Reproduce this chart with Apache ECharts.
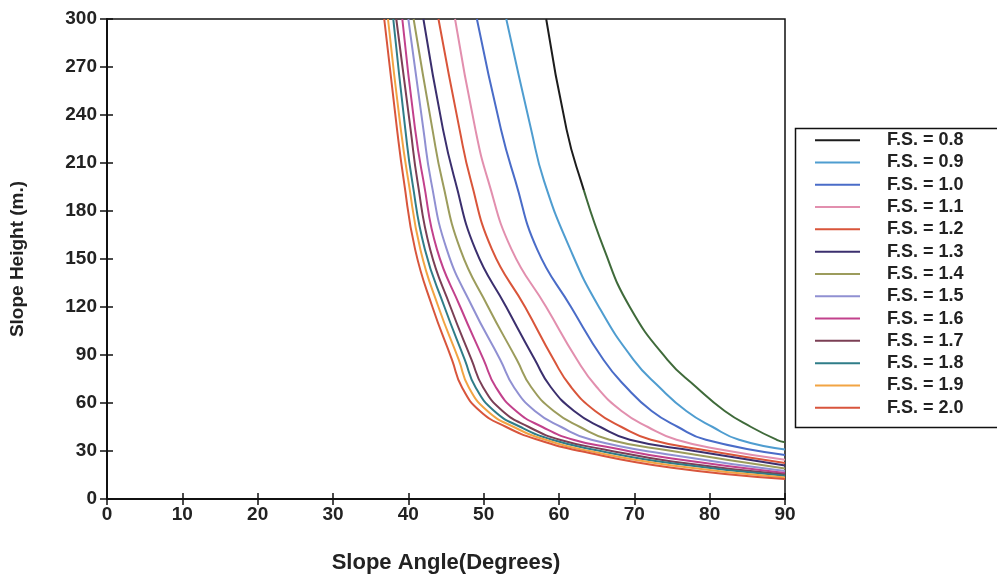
<!DOCTYPE html>
<html><head><meta charset="utf-8">
<script src="https://cdn.jsdelivr.net/npm/echarts@6/dist/echarts.min.js"></script>
<style>html,body{margin:0;padding:0;background:#fff}#c{width:997px;height:574px}</style>
</head><body><div id="c"></div>
<script>
const xTicks = [0,10,20,30,40,50,60,70,80,90];
const yTicks = [0,30,60,90,120,150,180,210,240,270,300];
const seriesNames = ['F.S. = 0.8','F.S. = 0.9','F.S. = 1.0','F.S. = 1.1','F.S. = 1.2','F.S. = 1.3','F.S. = 1.4','F.S. = 1.5','F.S. = 1.6','F.S. = 1.7','F.S. = 1.8','F.S. = 1.9','F.S. = 2.0'];
// [slope angle (deg), slope height (m)]
const fs08 = [[58.3,300],[61.0,231],[62.9,199],[66.0,156],[69.4,120],[74.4,87],[78.2,70],[82.0,55],[85.5,45],[88.9,37],[90,35.5]];
const fs09 = [[53.0,300],[56.3,231],[58.0,199],[61.5,156],[65.3,120],[69.9,87],[73.3,70],[76.9,55],[80.4,45],[83.9,37],[90,31]];
const fs10 = [[49.1,300],[52.3,231],[54.2,199],[57.1,156],[61.6,120],[65.9,87],[68.9,70],[72.3,55],[75.8,45],[79.5,37],[90,27.5]];
const fs11 = [[46.2,300],[48.9,231],[50.6,199],[53.7,156],[58.3,120],[62.4,87],[65.0,70],[68.3,55],[71.8,45],[75.6,37],[82,30.5],[90,24.5]];
const fs12 = [[44.0,300],[46.8,231],[48.3,199],[51.1,156],[55.5,120],[59.3,87],[61.6,70],[64.8,55],[68.3,45],[72.2,37],[80,30],[90,22.5]];
const fs13 = [[42.0,300],[44.6,231],[46.2,199],[48.9,156],[53.0,120],[56.8,87],[58.9,70],[62.0,55],[65.5,45],[69.4,37],[78,30],[90,21]];
const fs14 = [[40.7,300],[43.2,231],[44.5,199],[46.9,156],[50.6,120],[54.4,87],[56.3,70],[59.3,55],[62.8,45],[66.7,37],[75,30],[90,19]];
const fs15 = [[40.0,300],[42.0,231],[43.0,199],[45.1,156],[48.5,120],[52.2,87],[54.0,70],[56.8,55],[60.3,45],[64.3,37],[75,27.5],[90,17.5]];
const fs16 = [[39.2,300],[40.9,231],[42.0,199],[43.8,156],[46.9,120],[50.0,87],[51.6,70],[54.3,55],[57.8,45],[61.9,37],[67,32],[75,25.3],[90,16.3]];
const fs17 = [[38.4,300],[40.3,231],[41.2,199],[42.9,156],[45.6,120],[48.4,87],[49.9,70],[52.5,55],[56.0,45],[60.1,37],[66,31],[75,23.5],[90,15.3]];
const fs18 = [[38.0,300],[39.6,231],[40.5,199],[42.2,156],[44.8,120],[47.5,87],[48.9,70],[51.4,55],[54.9,45],[59.1,37],[65,30.5],[75,22.3],[90,14.5]];
const fs19 = [[37.3,300],[39.0,231],[40.0,199],[41.6,156],[44.0,120],[46.7,87],[48.0,70],[50.5,55],[54.0,45],[58.2,37],[64,30],[75,21],[90,13.5]];
const fs20 = [[36.8,300],[38.5,231],[39.4,199],[40.9,156],[43.2,120],[45.8,87],[47.1,70],[49.5,55],[53.0,45],[57.2,37],[62.8,30],[75,19.5],[90,12.5]];
const allData = [fs08,fs09,fs10,fs11,fs12,fs13,fs14,fs15,fs16,fs17,fs18,fs19,fs20];
const colors = ['#1c1c1c','#4f9dd0','#4a6cc8','#e28fae','#d9553a','#3b2f6e','#9c9c5c','#9090d2','#c2418c','#7b3f55','#2f7d88','#f2a443','#d8553c'];

const chart = echarts.init(document.getElementById('c'), null, {renderer:'canvas'});
const FONT = 'Liberation Sans, Arial, sans-serif';
const fs08Color = new echarts.graphic.LinearGradient(0,0,0,1,[
  {offset:0,color:'#1c1c1c'},{offset:0.405,color:'#1c1c1c'},
  {offset:0.405,color:'#3f6a3a'},{offset:1,color:'#3f6a3a'}]);
const series = seriesNames.map((n,i)=>({
  name:n, type:'line', data:allData[i], smooth:0.5, showSymbol:false, symbol:'none',
  xAxisIndex:0, yAxisIndex:0,
  lineStyle:{color:i===0?fs08Color:colors[i], width:2}, itemStyle:{color:colors[i]}, z: 3
}));
chart.setOption({
  animation:false,
  backgroundColor:'#fff',
  grid:{left:107,right:212,top:19,bottom:75,outerBoundsMode:'none',containLabel:false,
    show:true,borderColor:'#111',borderWidth:1.5,backgroundColor:'transparent'},
  xAxis:[{type:'value',min:0,max:90,interval:10,
    axisLine:{lineStyle:{color:'#111',width:2}},
    axisTick:{show:true,length:6,lineStyle:{color:'#111',width:1.5}},
    axisLabel:{color:'#222',fontFamily:FONT,fontWeight:'bold',fontSize:19,margin:6},
    splitLine:{show:false},
    name:'Slope Angle(Degrees)',nameLocation:'middle',nameGap:53,
    nameTextStyle:{color:'#222',fontFamily:FONT,fontWeight:'bold',fontSize:22}},
   {type:'value',min:0,max:90,interval:10,position:'bottom',
    axisLine:{show:false},axisTick:{show:true,inside:true,length:6,lineStyle:{color:'#111',width:1.5}},
    axisLabel:{show:false},splitLine:{show:false}}],
  yAxis:[{type:'value',min:0,max:300,interval:30,
    axisLine:{show:true,lineStyle:{color:'#111',width:2}},
    axisTick:{show:true,length:7,lineStyle:{color:'#111',width:1.5}},
    axisLabel:{color:'#222',fontFamily:FONT,fontWeight:'bold',fontSize:19,margin:10},
    splitLine:{show:false},
    name:'Slope Height (m.)',nameLocation:'middle',nameGap:80,
    nameTextStyle:{color:'#222',fontFamily:FONT,fontWeight:'bold',fontSize:19}},
   {type:'value',min:0,max:300,interval:30,position:'left',
    axisLine:{show:false},axisTick:{show:true,inside:true,length:6,lineStyle:{color:'#111',width:1.5}},
    axisLabel:{show:false},splitLine:{show:false}}],
  legend:{orient:'vertical',left:810,top:124,itemWidth:45,itemHeight:10,itemGap:0,
    icon:'path://M0,4 L45,4 L45,6 L0,6 Z',
    textStyle:{color:'#222',fontFamily:FONT,fontWeight:'bold',fontSize:18,padding:[0,0,0,22],lineHeight:22.3},
    data:seriesNames.map((n,i)=>({name:n,itemStyle:{color:colors[i]}}))},
  graphic:[{type:'rect',left:793,top:126,shape:{width:230,height:299},
    style:{fill:'none',stroke:'#111',lineWidth:1.5},z:-1}],
  series: series
});
</script></body></html>
